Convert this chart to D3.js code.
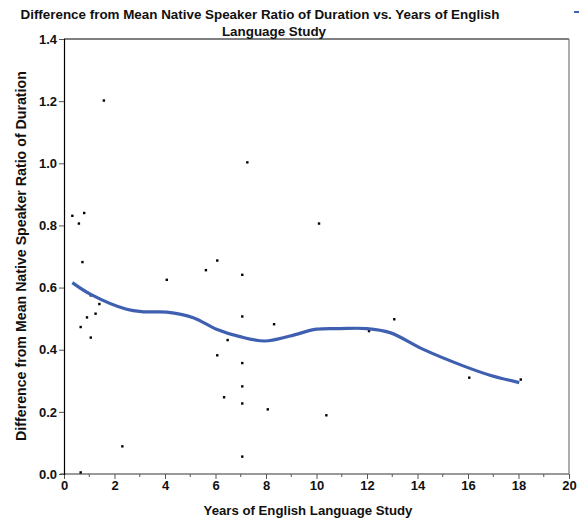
<!DOCTYPE html>
<html><head><meta charset="utf-8">
<script src="https://cdn.jsdelivr.net/npm/d3@7"></script>
<style>body{margin:0;background:#fff}svg{display:block;font-family:"Liberation Sans",Arial,sans-serif}</style>
</head><body>
<svg id="c" width="579" height="520"></svg>
<script>
const years = [0.33,0.80,0.59,0.73,1.06,1.40,0.91,1.25,0.66,1.06,1.58,0.66,2.31,4.07,5.62,6.07,6.48,6.07,6.34,7.26,10.10,7.06,7.06,8.32,7.06,7.06,7.06,8.07,10.39,7.06,13.08,12.08,16.05,18.09];
const ratio = [0.831,0.840,0.806,0.682,0.575,0.547,0.504,0.516,0.473,0.439,1.202,0.005,0.089,0.625,0.656,0.687,0.431,0.382,0.247,1.003,0.806,0.641,0.507,0.482,0.357,0.282,0.227,0.208,0.189,0.056,0.498,0.460,0.310,0.304];
const smoothX = [0.33,1.06,2.48,3.14,4.07,5.12,6.04,6.97,7.96,8.95,10.0,10.93,11.99,12.91,14.23,15.81,16.87,18.03];
const smoothY = [0.616,0.578,0.530,0.522,0.521,0.503,0.466,0.442,0.428,0.444,0.466,0.468,0.468,0.455,0.401,0.348,0.318,0.294];
const xTicks = [0,2,4,6,8,10,12,14,16,18,20];
const yTicks = [0,0.2,0.4,0.6,0.8,1.0,1.2,1.4];

const svg = d3.select("#c");
const L=64,R=569,T=39,B=474;
const x = d3.scaleLinear().domain([0,20]).range([L,R]);
const y = d3.scaleLinear().domain([0,1.4]).range([B,T]);

// frame
svg.append("line").attr("x1",L).attr("x2",R).attr("y1",T).attr("y2",T).attr("stroke","#000").attr("stroke-width",1.2);
svg.append("line").attr("x1",R).attr("x2",R).attr("y1",T).attr("y2",B).attr("stroke","#777").attr("stroke-width",1.2);

// x axis
const gx = svg.append("g").attr("transform",`translate(0,${B})`)
  .call(d3.axisBottom(x).tickValues(xTicks).tickFormat(d3.format("d")).tickSizeOuter(0).tickSize(5).tickPadding(2));
gx.select(".domain").attr("stroke","#777").attr("stroke-width",1.5).attr("d",`M${L-4},0H${R}`);
gx.selectAll(".tick line").attr("stroke","#555");
gx.selectAll("text").attr("font-size",13).attr("font-weight","bold").attr("fill","#111");
gx.selectAll(".minor").data(d3.range(1,20,2)).enter().append("line")
  .attr("x1",d=>x(d)).attr("x2",d=>x(d)).attr("y1",0).attr("y2",3).attr("stroke","#555");

// y axis
const gy = svg.append("g").attr("transform",`translate(${L},0)`)
  .call(d3.axisLeft(y).tickValues(yTicks).tickFormat(d3.format(".1f")).tickSizeOuter(0).tickSize(5).tickPadding(2));
gy.select(".domain").attr("stroke","#000").attr("stroke-width",1.2);
gy.selectAll(".tick line").attr("stroke","#555");
gy.selectAll("text").attr("font-size",13).attr("font-weight","bold").attr("fill","#111");

// points
svg.append("g").selectAll("rect").data(years.map((d,i)=>[d,ratio[i]])).enter().append("rect")
  .attr("x",d=>x(d[0])-1.2).attr("y",d=>y(d[1])-1.2).attr("width",2.4).attr("height",2.4).attr("fill","#000");

// smoother
svg.append("path").datum(smoothX.map((d,i)=>[d,smoothY[i]]))
  .attr("d",d3.line().x(d=>x(d[0])).y(d=>y(d[1])).curve(d3.curveCatmullRom.alpha(0.5)))
  .attr("fill","none").attr("stroke","#3f5fb0").attr("stroke-width",3.2);

// titles
svg.append("text").attr("x",260).attr("y",19).attr("text-anchor","middle").attr("font-size",13.4).attr("font-weight","bold").attr("fill","#111")
  .text("Difference from Mean Native Speaker Ratio of Duration vs. Years of English");
svg.append("text").attr("x",274).attr("y",36).attr("text-anchor","middle").attr("font-size",13.4).attr("font-weight","bold").attr("fill","#111")
  .text("Language Study");
svg.append("text").attr("x",308).attr("y",515).attr("text-anchor","middle").attr("font-size",13.2).attr("font-weight","bold").attr("fill","#111")
  .text("Years of English Language Study");
svg.append("text").attr("transform","translate(26,256) rotate(-90)").attr("text-anchor","middle").attr("font-size",14.2).attr("font-weight","bold").attr("fill","#111")
  .text("Difference from Mean Native Speaker Ratio of Duration");
// legend glyph
svg.append("line").attr("x1",574).attr("x2",579).attr("y1",12).attr("y2",12).attr("stroke","#3f5fb0").attr("stroke-width",2);
</script>
</body></html>
